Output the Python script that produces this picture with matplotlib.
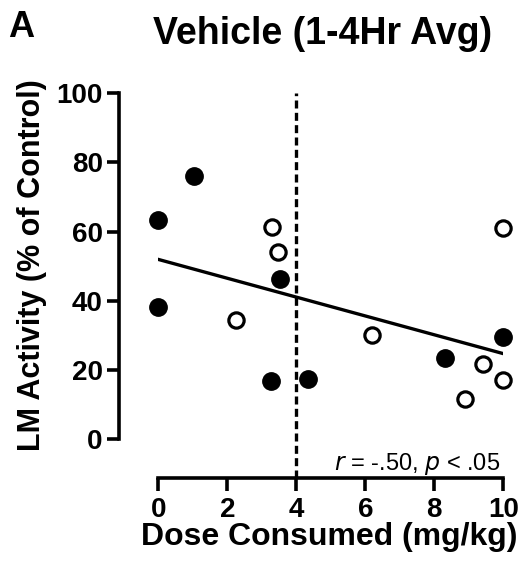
import numpy as np
import matplotlib
matplotlib.use("Agg")
import matplotlib.pyplot as plt

# values
filled_dose = [0.0, 1.04, 0.0, 3.54, 3.27, 4.35, 8.31, 10.0]
filled_act = [63.3, 76.2, 38.2, 46.3, 16.8, 17.3, 23.4, 29.6]
open_dose = [3.29, 3.48, 2.26, 6.19, 8.89, 9.41, 10.0, 10.0]
open_act = [61.2, 54.2, 34.4, 30.1, 11.6, 21.6, 17.1, 60.9]
cutoff = 4
xticks = [0, 2, 4, 6, 8, 10]
yticks = [0, 20, 40, 60, 80, 100]

plt.rcParams['font.family'] = ['Liberation Sans', 'DejaVu Sans']

fig = plt.figure(figsize=(5.21, 5.72), dpi=100)
ax = fig.add_axes([0.3038, 0.2325, 0.6622, 0.6044])

# fit line over all animals
all_x = np.array(filled_dose + open_dose)
all_y = np.array(filled_act + open_act)
slope, icpt = np.polyfit(all_x, all_y, 1)
fx = np.array([0, 10])
ax.plot(fx, icpt + slope * fx, color='black', lw=2.4, zorder=2)

ax.axvline(cutoff, ymin=-0.112, ymax=1, color='black', lw=2.4,
           linestyle=(0, (2.4, 1.3)), clip_on=False, zorder=1)

ax.plot(filled_dose, filled_act, 'o', ms=12.5, mfc='black', mec='black',
        mew=1, clip_on=False, zorder=3)
ax.plot(open_dose, open_act, 'o', ms=11, mfc='white', mec='black',
        mew=2.3, clip_on=False, zorder=3)

ax.set_xlim(0, 10)
ax.set_ylim(0, 100)
ax.set_xticks(xticks)
ax.set_yticks(yticks)

for s in ['top', 'right']:
    ax.spines[s].set_visible(False)
for s in ['left', 'bottom']:
    ax.spines[s].set_position(('outward', 28))
    ax.spines[s].set_linewidth(2.6)
ax.tick_params(width=2.6, length=9, labelsize=20)
ax.tick_params(axis='y', pad=3)
ax.tick_params(axis='x', pad=5)
for lab in ax.get_xticklabels() + ax.get_yticklabels():
    lab.set_fontweight('bold')

ax.text(9.9, -9, r'$\it{r}$ = -.50, $\it{p}$ < .05', ha='right', va='baseline',
        fontsize=17)

fig.text(0.015, 0.935, 'A', fontsize=26, fontweight='bold', va='baseline')
fig.text(0.619, 0.923, 'Vehicle (1-4Hr Avg)', fontsize=27, fontweight='bold',
         ha='center', va='baseline')
fig.text(0.631, 0.047, 'Dose Consumed (mg/kg)', fontsize=23, fontweight='bold',
         ha='center', va='baseline')
fig.text(0.061, 0.537, 'LM Activity (% of Control)', fontsize=22,
         fontweight='bold', rotation=90, ha='center', va='center')

fig.savefig('out.png', dpi=100)
